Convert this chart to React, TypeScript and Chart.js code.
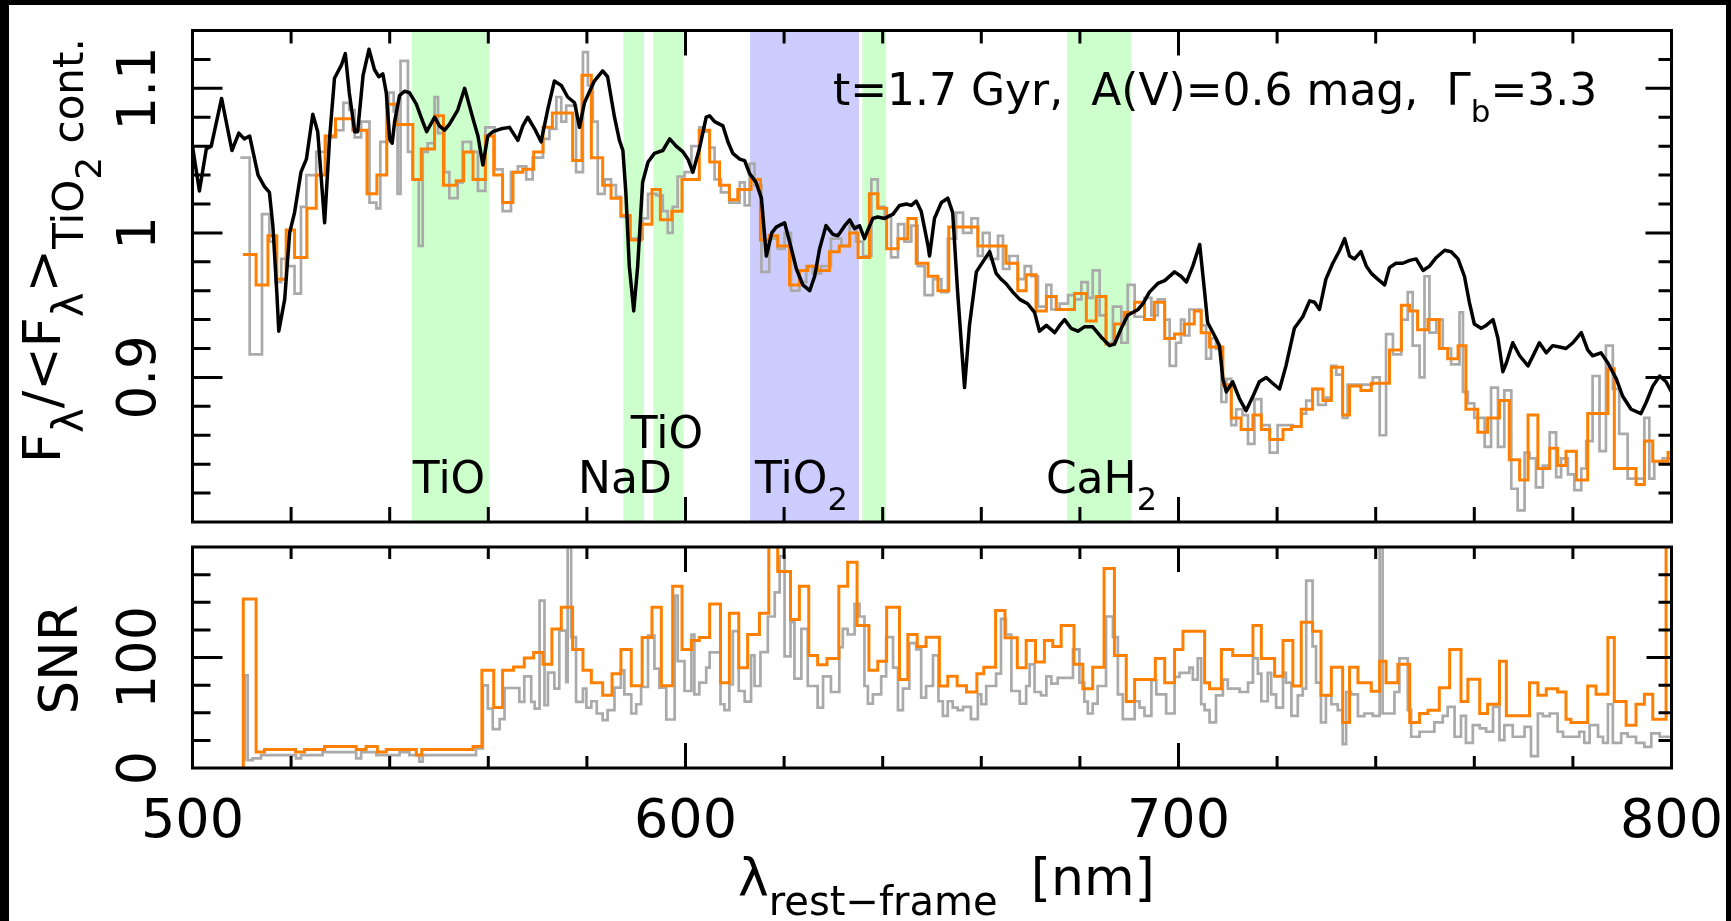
import React, { useEffect, useRef } from 'react';
import { Chart, registerables } from 'chart.js';

Chart.register(...registerables);

// ---------------- data ----------------
// model spectrum (black line)
const modelWave = [
  500.0, 501.4, 502.8, 503.8, 505.9, 508.0, 509.4, 510.5, 511.6, 513.3,
  514.6, 515.6, 516.3, 517.1, 517.5, 518.7, 519.7, 520.7, 522.0, 523.1,
  524.4, 525.4, 526.8, 527.8, 528.8, 530.2, 531.0, 531.8, 532.9, 533.5,
  534.6, 535.8, 536.9, 537.8, 538.6, 539.3, 540.0, 540.5, 541.0, 542.0,
  543.0, 544.0, 545.4, 546.7, 547.5, 549.1, 550.1, 551.1, 552.1, 553.8,
  555.2, 556.9, 557.9, 558.9, 559.9, 560.9, 562.6, 564.3, 566.0, 567.0,
  568.0, 569.4, 570.7, 572.1, 573.4, 574.8, 576.1, 577.5, 578.5, 579.5,
  581.5, 583.2, 584.2, 585.6, 586.6, 587.3, 587.9, 588.6, 589.5, 590.3,
  591.3, 592.4, 593.7, 595.4, 596.8, 598.1, 599.5, 600.5, 601.5, 602.8,
  604.2, 604.9, 605.9, 607.6, 608.6, 609.6, 611.0, 612.0, 613.0, 614.3,
  615.4, 616.4, 617.5, 618.4, 620.1, 621.1, 622.5, 623.8, 625.2, 626.2,
  627.2, 628.5, 629.9, 630.9, 632.3, 633.3, 634.3, 635.3, 636.3, 637.0,
  638.0, 639.0, 640.4, 642.1, 643.4, 644.8, 645.8, 646.8, 647.8, 649.2,
  649.5, 650.5, 651.9, 653.2, 654.2, 655.2, 656.6, 657.6, 659.0, 660.7,
  661.7, 663.0, 664.0, 665.0, 666.4, 667.8, 669.4, 670.8, 671.8, 673.2,
  674.9, 675.9, 676.9, 678.2, 679.6, 680.9, 682.6, 684.3, 686.0, 687.0,
  688.4, 689.7, 691.8, 692.8, 694.1, 695.8, 697.2, 699.2, 700.5, 701.6,
  702.9, 704.3, 705.3, 705.9, 707.3, 708.3, 709.0, 709.7, 711.0, 712.4,
  713.7, 715.1, 716.4, 717.8, 719.1, 720.5, 721.8, 723.5, 725.2, 726.6,
  727.6, 728.6, 729.9, 731.3, 732.7, 733.7, 734.7, 735.7, 737.0, 738.1,
  739.1, 740.4, 741.8, 742.8, 744.1, 745.5, 746.9, 748.2, 749.6, 750.9,
  752.3, 754.0, 755.3, 756.7, 758.0, 759.0, 760.0, 761.4, 762.4, 763.8,
  764.8, 765.8, 766.5, 767.8, 769.2, 770.9, 772.2, 773.2, 774.6, 775.9,
  777.3, 778.6, 780.0, 781.7, 783.0, 784.0, 785.7, 787.1, 788.8, 790.1,
  791.8, 793.8, 794.9, 796.2, 797.6, 798.9, 800.0,
];
const modelFlux = [
  1.060, 1.029, 1.058, 1.060, 1.093, 1.057, 1.069, 1.065, 1.067, 1.040,
  1.032, 1.028, 1.005, 0.959, 0.932, 0.954, 1.000, 1.014, 1.042, 1.051,
  1.082, 1.070, 1.007, 1.065, 1.107, 1.116, 1.124, 1.097, 1.070, 1.070,
  1.109, 1.127, 1.113, 1.108, 1.110, 1.097, 1.065, 1.062, 1.077, 1.095,
  1.098, 1.097, 1.089, 1.077, 1.070, 1.080, 1.074, 1.071, 1.075, 1.085,
  1.100, 1.079, 1.067, 1.047, 1.067, 1.070, 1.072, 1.073, 1.064, 1.074,
  1.080, 1.072, 1.063, 1.086, 1.105, 1.102, 1.094, 1.090, 1.073, 1.090,
  1.105, 1.112, 1.108, 1.080, 1.064, 1.057, 1.028, 0.977, 0.946, 0.977,
  1.035, 1.049, 1.055, 1.057, 1.065, 1.060, 1.056, 1.051, 1.042, 1.058,
  1.080, 1.081, 1.077, 1.074, 1.063, 1.055, 1.051, 1.050, 1.041, 1.035,
  1.024, 0.984, 1.000, 1.004, 1.007, 0.994, 0.975, 0.964, 0.960, 0.970,
  0.989, 1.005, 0.999, 0.998, 1.005, 1.009, 1.003, 1.005, 0.996, 1.002,
  1.010, 1.011, 1.010, 1.013, 1.019, 1.020, 1.019, 1.022, 1.015, 0.991,
  0.984, 1.010, 1.021, 1.024, 1.014, 0.959, 0.893, 0.936, 0.973, 0.982,
  0.987, 0.972, 0.968, 0.965, 0.959, 0.954, 0.951, 0.945, 0.932, 0.936,
  0.931, 0.936, 0.940, 0.934, 0.932, 0.935, 0.935, 0.928, 0.922, 0.923,
  0.934, 0.943, 0.947, 0.951, 0.959, 0.965, 0.967, 0.973, 0.970, 0.966,
  0.977, 0.992, 0.959, 0.938, 0.929, 0.922, 0.899, 0.890, 0.897, 0.885,
  0.877, 0.887, 0.897, 0.900, 0.896, 0.892, 0.908, 0.934, 0.942, 0.953,
  0.952, 0.947, 0.968, 0.979, 0.988, 0.996, 0.984, 0.982, 0.987, 0.977,
  0.972, 0.968, 0.964, 0.976, 0.979, 0.979, 0.981, 0.982, 0.974, 0.977,
  0.983, 0.988, 0.987, 0.982, 0.970, 0.952, 0.937, 0.934, 0.936, 0.940,
  0.927, 0.904, 0.910, 0.924, 0.915, 0.908, 0.917, 0.924, 0.917, 0.922,
  0.921, 0.920, 0.924, 0.931, 0.919, 0.915, 0.917, 0.910, 0.899, 0.887,
  0.878, 0.875, 0.883, 0.894, 0.901, 0.897, 0.890,
];

// observed spectrum, full resolution (grey steps, left bin edges)
const obsWave = [
  509.7, 511.6, 514.1, 515.6, 516.8, 518.0, 519.0, 520.7, 522.0, 523.1,
  525.1, 527.1, 529.1, 530.6, 531.8, 532.9, 534.2, 535.9, 537.3, 538.1,
  539.8, 540.8, 541.6, 542.2, 543.7, 544.6, 545.9, 546.7, 547.7, 549.1,
  549.8, 551.1, 552.1, 553.8, 554.8, 556.5, 557.9, 559.4, 561.3, 562.9,
  564.6, 566.0, 567.7, 569.0, 571.1, 572.4, 573.8, 574.8, 575.8, 577.8,
  579.2, 580.2, 581.2, 582.2, 583.6, 584.9, 585.9, 586.9, 588.6, 591.3,
  592.4, 594.1, 595.4, 596.4, 597.4, 598.4, 599.8, 601.2, 602.8, 603.9,
  604.9, 605.9, 607.2, 608.9, 611.0, 612.0, 613.0, 614.0, 615.4, 617.0,
  618.7, 620.1, 621.4, 623.1, 624.5, 625.8, 627.5, 629.5, 631.6, 633.3,
  634.6, 636.0, 637.7, 639.0, 640.4, 641.7, 643.1, 644.4, 645.8, 647.1,
  648.5, 650.2, 651.9, 653.2, 654.9, 656.3, 658.0, 659.3, 660.3, 661.7,
  663.4, 664.4, 665.7, 667.4, 668.8, 670.1, 671.5, 673.2, 674.2, 675.9,
  677.6, 678.9, 680.3, 681.6, 682.6, 684.0, 685.3, 686.7, 688.4, 689.7,
  691.1, 693.1, 694.5, 695.8, 697.2, 698.2, 699.5, 700.5, 701.2, 702.2,
  704.6, 705.6, 706.6, 707.6, 708.7, 709.7, 710.7, 711.7, 713.0, 714.1,
  715.4, 716.8, 718.5, 720.1, 723.2, 724.9, 725.9, 727.2, 728.3, 729.9,
  731.0, 732.0, 733.3, 734.3, 739.4, 740.8, 742.1, 743.5, 745.2, 746.5,
  747.5, 748.9, 749.9, 750.9, 752.3, 753.6, 755.3, 757.0, 757.7, 758.7,
  760.0, 762.1, 763.4, 764.8, 766.1, 767.5, 768.8, 770.2, 771.2, 772.5,
  773.9, 775.3, 776.6, 777.6, 779.0, 780.3, 781.7, 782.7, 784.0, 785.4,
  786.7, 788.1, 789.4, 791.1, 794.5, 795.5, 796.5, 798.2, 800.0,
];
const obsFlux = [
  1.052, 0.916, 1.013, 0.994, 0.966, 0.982, 0.977, 0.958, 1.018, 1.040,
  1.056, 1.066, 1.071, 1.090, 1.085, 1.066, 1.077, 1.021, 1.017, 1.063,
  1.097, 1.084, 1.027, 1.119, 1.056, 1.037, 0.991, 1.056, 1.062, 1.094,
  1.069, 1.042, 1.024, 1.035, 1.063, 1.056, 1.029, 1.073, 1.044, 1.015,
  1.042, 1.046, 1.037, 1.052, 1.065, 1.072, 1.094, 1.077, 1.088, 1.042,
  1.125, 1.102, 1.077, 1.027, 1.037, 1.033, 1.025, 1.011, 0.996, 1.010,
  1.027, 1.026, 1.015, 1.000, 1.018, 1.039, 1.042, 1.060, 1.073, 1.070,
  1.059, 1.037, 1.028, 1.021, 1.035, 1.019, 1.048, 1.033, 0.973, 0.996,
  0.989, 1.000, 0.960, 0.966, 0.977, 0.972, 0.977, 0.996, 0.991, 1.005,
  0.994, 0.984, 1.037, 1.018, 1.012, 0.983, 1.006, 0.994, 1.005, 0.977,
  0.957, 0.968, 0.959, 0.996, 1.014, 1.000, 1.010, 0.984, 1.000, 0.982,
  0.998, 0.975, 0.984, 0.968, 0.977, 0.970, 0.949, 0.964, 0.947, 0.951,
  0.957, 0.954, 0.966, 0.955, 0.974, 0.943, 0.924, 0.949, 0.924, 0.964,
  0.942, 0.955, 0.943, 0.954, 0.940, 0.908, 0.924, 0.940, 0.929, 0.947,
  0.936, 0.913, 0.927, 0.920, 0.883, 0.899, 0.867, 0.878, 0.874, 0.854,
  0.885, 0.867, 0.848, 0.867, 0.866, 0.875, 0.884, 0.892, 0.881, 0.886,
  0.908, 0.902, 0.872, 0.895, 0.900, 0.860, 0.930, 0.916, 0.940, 0.959,
  0.922, 0.900, 0.970, 0.931, 0.940, 0.920, 0.909, 0.945, 0.890, 0.882,
  0.872, 0.852, 0.893, 0.852, 0.891, 0.823, 0.808, 0.848, 0.844, 0.824,
  0.839, 0.862, 0.831, 0.844, 0.833, 0.822, 0.837, 0.856, 0.901, 0.849,
  0.922, 0.892, 0.861, 0.830, 0.872, 0.830, 0.842, 0.844, 0.844,
];

// observed spectrum, binned (orange steps, left bin edges)
const binWave = [
  510.2, 512.9, 515.3, 517.1, 519.0, 520.7, 523.2, 525.1, 526.9, 529.0,
  532.5, 535.4, 537.4, 539.4, 541.4, 544.7, 546.4, 549.1, 550.9, 553.5,
  555.0, 556.9, 559.4, 561.1, 562.9, 565.0, 567.0, 569.2, 571.1, 573.0,
  577.1, 579.0, 580.9, 583.2, 584.9, 586.9, 588.8, 591.0, 593.2, 594.9,
  597.2, 599.3, 602.8, 604.9, 606.9, 608.9, 610.6, 613.3, 615.2, 617.0,
  618.7, 621.1, 623.1, 624.8, 626.8, 629.2, 631.2, 633.3, 635.0, 637.3,
  639.0, 640.8, 643.1, 645.1, 646.8, 649.2, 651.2, 653.4, 659.3, 665.0,
  667.4, 669.1, 671.1, 673.2, 675.2, 678.9, 681.3, 683.3, 685.3, 687.0,
  689.0, 691.1, 693.1, 695.1, 697.2, 699.2, 701.2, 703.2, 704.6, 706.3,
  709.0, 710.7, 712.7, 715.1, 716.8, 718.5, 721.2, 722.9, 724.9, 727.2,
  729.3, 731.0, 733.3, 734.7, 737.0, 739.1, 742.8, 745.2, 746.9, 748.5,
  750.6, 752.9, 754.6, 756.7, 758.3, 760.7, 762.7, 765.1, 767.1, 769.2,
  770.9, 772.9, 775.3, 776.9, 778.6, 780.7, 783.0, 787.1, 788.4, 792.8,
  794.5, 796.2, 799.3, 800.0,
];
const binFlux = [
  0.985, 0.964, 0.998, 0.968, 1.002, 0.983, 1.017, 1.040, 1.067, 1.079,
  1.071, 1.027, 1.040, 1.089, 1.075, 1.037, 1.058, 1.081, 1.033, 1.036,
  1.056, 1.037, 1.067, 1.040, 1.021, 1.042, 1.044, 1.056, 1.073, 1.083,
  1.050, 1.109, 1.052, 1.033, 1.024, 1.012, 0.995, 1.006, 1.030, 1.009,
  1.015, 1.037, 1.071, 1.049, 1.033, 1.023, 1.030, 1.037, 0.995, 0.998,
  0.991, 0.964, 0.974, 0.977, 0.974, 0.987, 0.991, 1.000, 0.983, 1.027,
  1.017, 0.989, 0.996, 1.010, 0.979, 0.970, 0.960, 1.004, 0.991, 0.979,
  0.960, 0.971, 0.946, 0.956, 0.947, 0.958, 0.939, 0.956, 0.923, 0.937,
  0.945, 0.952, 0.940, 0.952, 0.927, 0.930, 0.937, 0.946, 0.931, 0.921,
  0.895, 0.872, 0.864, 0.874, 0.864, 0.857, 0.864, 0.866, 0.878, 0.892,
  0.884, 0.907, 0.874, 0.894, 0.891, 0.896, 0.919, 0.950, 0.946, 0.933,
  0.940, 0.920, 0.913, 0.922, 0.878, 0.862, 0.872, 0.884, 0.843, 0.829,
  0.874, 0.837, 0.851, 0.839, 0.849, 0.829, 0.875, 0.906, 0.837, 0.826,
  0.856, 0.842, 0.848, 0.848,
];

// SNR, full resolution (grey) and binned (orange)
const snrObsWave = [
  510.5, 510.6, 511.2, 512.2, 513.9, 521.0, 522.0, 526.4, 533.2, 534.2,
  537.3, 542.0, 544.0, 546.0, 546.7, 557.5, 558.9, 559.9, 560.9, 562.3,
  563.3, 566.3, 567.3, 568.7, 569.4, 570.4, 571.4, 572.1, 573.4, 574.4,
  575.8, 576.1, 576.8, 577.8, 579.2, 579.9, 580.9, 582.0, 583.2, 584.2,
  585.6, 586.9, 587.6, 589.0, 590.0, 591.0, 592.4, 593.7, 594.7, 596.1,
  597.8, 598.4, 599.8, 601.2, 601.8, 602.8, 604.2, 604.9, 607.1, 607.9,
  608.9, 609.6, 610.8, 612.0, 613.3, 614.0, 615.2, 616.7, 618.1, 619.1,
  620.1, 621.3, 622.1, 623.5, 624.8, 626.8, 627.9, 629.5, 631.2, 631.9,
  632.9, 634.3, 635.3, 636.3, 637.0, 638.0, 639.7, 640.7, 642.1, 643.1,
  644.1, 645.4, 646.8, 647.8, 648.8, 650.2, 651.3, 652.2, 653.2, 654.2,
  655.2, 656.3, 657.9, 659.3, 660.0, 661.0, 663.0, 664.0, 665.0, 666.1,
  667.8, 669.1, 669.8, 670.8, 672.1, 673.2, 674.2, 675.5, 678.6, 679.9,
  680.9, 681.6, 682.6, 683.6, 685.3, 686.7, 687.7, 688.7, 691.1, 692.1,
  693.1, 694.5, 695.5, 697.5, 699.2, 700.2, 702.2, 702.9, 703.9, 704.6,
  705.3, 706.3, 707.6, 709.0, 710.0, 712.4, 714.1, 715.1, 716.1, 716.8,
  718.1, 718.8, 719.8, 721.2, 721.8, 722.9, 724.2, 725.2, 725.9, 727.2,
  727.9, 728.9, 729.9, 731.0, 732.3, 733.3, 734.0, 735.0, 736.4, 737.7,
  739.4, 740.8, 741.4, 743.8, 744.8, 746.5, 747.2, 748.9, 751.9, 753.6,
  754.6, 756.0, 757.3, 758.3, 759.7, 761.1, 762.4, 763.8, 765.1, 766.1,
  767.8, 770.2, 771.5, 772.9, 773.9, 775.3, 776.9, 778.0, 781.3, 782.3,
  783.4, 785.1, 786.1, 787.1, 788.1, 789.8, 791.1, 792.8, 794.5, 795.9,
  797.6, 800.0,
];
const snrObs = [
  7.2, 83.9, 7.2, 8.7, 11.7, 8.7, 11.7, 14.4, 8.7, 14.4,
  11.7, 14.4, 11.7, 5.7, 11.7, 17.7, 74.8, 53.8, 35.2, 44.2,
  72.4, 59.8, 83.0, 59.8, 53.8, 151.5, 56.8, 86.3, 71.8, 124.4,
  77.8, 205, 118.4, 59.8, 71.8, 54.7, 60.4, 49.3, 43.3, 52.3,
  72.7, 88.4, 66.7, 49.3, 57.7, 73.3, 119.9, 89.9, 72.7, 43.9,
  156.0, 96.8, 69.7, 120.8, 66.7, 77.2, 90.8, 104.6, 57.7, 52.3,
  75.7, 123.8, 69.7, 60.1, 101.9, 74.2, 104.9, 137.1, 159.0, 191.5,
  101.0, 132.0, 80.9, 125.9, 74.2, 54.7, 83.0, 68.8, 109.4, 125.9,
  120.8, 148.5, 137.1, 74.2, 58.3, 66.7, 83.0, 118.4, 90.8, 52.3,
  71.8, 113.0, 107.3, 63.7, 74.2, 101.9, 60.4, 47.2, 60.4, 54.7,
  52.3, 55.3, 44.2, 66.7, 57.7, 74.2, 85.4, 135.0, 120.8, 69.7,
  58.3, 74.2, 93.8, 68.8, 65.8, 83.0, 76.3, 81.5, 107.3, 77.2,
  60.1, 49.3, 58.3, 74.2, 137.1, 118.4, 66.7, 44.2, 60.4, 54.7,
  47.2, 79.4, 66.7, 49.3, 82.4, 86.0, 90.8, 80.0, 99.2, 57.7,
  52.3, 41.2, 65.8, 80.0, 71.8, 68.8, 77.2, 99.2, 85.4, 60.4,
  86.0, 66.7, 54.7, 86.0, 77.2, 47.2, 65.8, 71.8, 169.5, 110.0,
  77.2, 41.2, 65.8, 57.7, 52.3, 21.6, 68.8, 66.7, 46.9, 49.3,
  47.2, 205, 49.3, 68.8, 99.2, 52.3, 28.3, 32.8, 41.2, 47.2,
  55.3, 28.3, 47.2, 22.8, 38.8, 35.8, 32.8, 55.3, 25.2, 38.8,
  28.3, 37.3, 10.8, 49.3, 46.9, 49.3, 32.8, 28.3, 32.8, 22.8,
  38.8, 28.3, 22.8, 57.7, 22.8, 31.3, 28.3, 22.8, 19.2, 31.3,
  28.3, 28.3,
];
const snrBinWave = [
  510.3, 510.3, 512.9, 514.6, 520.9, 522.7, 526.8, 533.2, 535.2, 537.5,
  539.3, 545.4, 546.5, 556.9, 558.7, 561.1, 562.9, 565.1, 567.3, 569.2,
  571.1, 572.9, 574.8, 577.1, 579.2, 580.9, 583.2, 585.1, 586.9, 589.0,
  591.2, 593.2, 595.1, 597.4, 599.3, 601.2, 602.8, 604.9, 607.1, 608.9,
  610.8, 612.6, 615.0, 616.9, 618.7, 621.3, 623.1, 625.0, 626.8, 628.7,
  631.1, 632.9, 634.8, 637.2, 639.0, 640.8, 643.4, 645.1, 647.0, 648.8,
  651.5, 653.2, 655.1, 657.0, 659.1, 660.5, 662.9, 664.8, 667.3, 669.1,
  671.0, 672.8, 674.5, 676.2, 678.8, 680.6, 682.6, 684.9, 687.0, 689.4,
  691.1, 695.3, 697.2, 699.2, 700.9, 705.3, 706.3, 708.7, 711.0, 715.1,
  716.8, 719.5, 721.2, 723.2, 724.9, 727.2, 728.9, 731.0, 733.3, 734.7,
  736.4, 739.1, 740.8, 742.1, 744.5, 746.9, 748.9, 750.6, 752.9, 755.0,
  757.3, 758.7, 761.1, 762.7, 765.1, 766.5, 771.2, 772.9, 774.6, 776.9,
  778.6, 779.6, 783.0, 784.7, 787.1, 788.4, 790.8, 792.8, 794.5, 796.2,
  798.9, 800.0,
];
const snrBin = [
  0, 153, 14.4, 16.8, 14.4, 16.8, 19.5, 16.8, 19.5, 14.4,
  16.8, 11.7, 16.8, 19.5, 88.4, 54.7, 88.4, 91.4, 99.5, 104.6,
  93.8, 125.9, 145.5, 107.3, 88.4, 77.2, 65.8, 85.4, 107.3, 74.5,
  118.1, 145.5, 74.5, 164.4, 107.3, 115.4, 118.1, 148.5, 77.2, 140.1,
  90.8, 120.8, 140.1, 210, 177.9, 134.4, 164.4, 101.9, 93.5, 99.2,
  164.4, 186.1, 128.9, 88.4, 96.5, 145.5, 80.0, 120.8, 110.0, 118.4,
  74.2, 83.0, 74.5, 68.8, 85.4, 91.1, 142.5, 117.8, 90.8, 115.4,
  95.9, 115.4, 110.0, 128.9, 93.8, 71.8, 91.1, 180.6, 101.9, 60.1,
  80.0, 99.2, 77.2, 107.3, 123.8, 77.2, 71.8, 107.3, 101.9, 128.9,
  99.2, 83.0, 115.4, 74.2, 132.0, 123.8, 65.8, 91.1, 41.2, 91.1,
  77.2, 69.4, 96.5, 77.2, 93.8, 41.2, 49.3, 52.3, 72.7, 107.3,
  60.1, 80.3, 49.3, 57.7, 96.5, 47.2, 77.2, 65.8, 71.8, 68.8,
  44.2, 41.2, 74.2, 66.7, 118.1, 60.1, 38.8, 57.7, 66.7, 44.2,
  210, 210,
];

// index bands
const bandStart = [544.5, 587.4, 593.5, 613.1, 635.9, 677.4];
const bandEnd = [560.2, 591.6, 599.6, 635.2, 640.7, 690.4];
const bandKind = ['side', 'side', 'side', 'index', 'side', 'side'];

// axis ranges and ticks
const xMin = 500, xMax = 800;
const xTickLabels = [500, 600, 700, 800];
const fluxMin = 0.8, fluxMax = 1.14;
const fluxTickLabels = [0.9, 1.0, 1.1];
const snrMin = 0, snrMax = 200;
const snrTickLabels = [0, 100];

// ---------------- drawing helpers ----------------
const W = 1731, H = 921, SPLIT = 535;
const FONT = '"DejaVu Sans", "Liberation Sans", sans-serif';
const ORANGE = '#ff8000';
const GREY = '#aaaaaa';

type Part = { t: string; size: number; dy: number };

function drawParts(ctx: CanvasRenderingContext2D, parts: Part[], x: number, y: number, rot: boolean) {
  ctx.save();
  ctx.translate(x, y);
  if (rot) ctx.rotate(-Math.PI / 2);
  ctx.fillStyle = '#000';
  ctx.textAlign = 'left';
  ctx.textBaseline = 'alphabetic';
  let adv = 0;
  for (const p of parts) {
    ctx.font = `${p.size}px ${FONT}`;
    ctx.fillText(p.t, adv, p.dy);
    adv += ctx.measureText(p.t).width;
  }
  ctx.restore();
}

function drawCentered(ctx: CanvasRenderingContext2D, t: string, size: number, x: number, y: number, rot: boolean) {
  ctx.save();
  ctx.translate(x, y);
  if (rot) ctx.rotate(-Math.PI / 2);
  ctx.fillStyle = '#000';
  ctx.font = `${size}px ${FONT}`;
  ctx.textAlign = 'center';
  ctx.textBaseline = 'alphabetic';
  ctx.fillText(t, 0, 0);
  ctx.restore();
}

type TickSpec = {
  xMinorTop: number; xMajorTop: number; xMinorBot: number; xMajorBot: number;
  yMinorL: number; yMajorL: number; yMinorR: number; yMajorR: number;
};

function drawBox(chart: any, yTicks: number[], yMajor: (v: number) => boolean, spec: TickSpec) {
  const { ctx, chartArea: a } = chart;
  const xs = chart.scales.x, ys = chart.scales.y;
  ctx.save();
  ctx.strokeStyle = '#000';
  ctx.lineWidth = 3;
  ctx.lineCap = 'butt';
  ctx.beginPath();
  for (let v = xMin + 20; v < xMax; v += 20) {
    const major = v % 100 === 0;
    const px = xs.getPixelForValue(v);
    ctx.moveTo(px, a.top);
    ctx.lineTo(px, a.top + (major ? spec.xMajorTop : spec.xMinorTop));
    ctx.moveTo(px, a.bottom);
    ctx.lineTo(px, a.bottom - (major ? spec.xMajorBot : spec.xMinorBot));
  }
  for (const v of yTicks) {
    const major = yMajor(v);
    const py = ys.getPixelForValue(v);
    ctx.moveTo(a.left, py);
    ctx.lineTo(a.left + (major ? spec.yMajorL : spec.yMinorL), py);
    ctx.moveTo(a.right, py);
    ctx.lineTo(a.right - (major ? spec.yMajorR : spec.yMinorR), py);
  }
  ctx.stroke();
  ctx.strokeRect(a.left, a.top, a.right - a.left, a.bottom - a.top);
  ctx.restore();
}

const topDecor = {
  id: 'topDecor',
  beforeDatasetsDraw(chart: any) {
    const { ctx, chartArea: a } = chart;
    const xs = chart.scales.x;
    ctx.save();
    bandStart.forEach((s, i) => {
      const x0 = xs.getPixelForValue(s);
      const x1 = xs.getPixelForValue(bandEnd[i]);
      ctx.fillStyle = bandKind[i] === 'index' ? '#ccccff' : '#ccffcc';
      ctx.fillRect(x0, a.top, x1 - x0, a.bottom - a.top);
    });
    ctx.restore();
  },
  afterDatasetsDraw(chart: any) {
    const { ctx, chartArea: a } = chart;
    const xs = chart.scales.x, ys = chart.scales.y;
    const yt: number[] = [];
    for (let k = 41; k <= 56; k++) yt.push(k * 0.02);
    drawBox(chart, yt, (v) => Math.round(v * 50) % 5 === 0, {
      xMinorTop: 13, xMajorTop: 25, xMinorBot: 15, xMajorBot: 25,
      yMinorL: 18, yMajorL: 30, yMinorR: 13, yMajorR: 26,
    });
    // y tick labels (rotated)
    fluxTickLabels.forEach((v) => {
      const label = v === 1 ? '1' : v.toFixed(1);
      drawCentered(ctx, label, 53, 155, ys.getPixelForValue(v), true);
    });
    // y title
    drawParts(ctx, [
      { t: 'F', size: 52, dy: 0 },
      { t: 'λ', size: 42, dy: 23 },
      { t: '/<F', size: 52, dy: 0 },
      { t: 'λ', size: 42, dy: 23 },
      { t: '>', size: 52, dy: 0 },
      { t: 'TiO', size: 42, dy: 23 },
      { t: '2', size: 36, dy: 41 },
      { t: ' cont.', size: 42, dy: 23 },
    ], 60, 463, true);
    // band labels
    const base = a.bottom - 29;
    drawParts(ctx, [{ t: 'TiO', size: 44, dy: 0 }], xs.getPixelForValue(544.7), base, false);
    drawParts(ctx, [{ t: 'NaD', size: 44, dy: 0 }], xs.getPixelForValue(578.2), base, false);
    drawParts(ctx, [{ t: 'TiO', size: 44, dy: 0 }], xs.getPixelForValue(588.9), a.bottom - 74, false);
    drawParts(ctx, [{ t: 'TiO', size: 44, dy: 0 }, { t: '2', size: 32, dy: 17 }], xs.getPixelForValue(614.1), base, false);
    drawParts(ctx, [{ t: 'CaH', size: 44, dy: 0 }, { t: '2', size: 32, dy: 17 }], xs.getPixelForValue(673.1), base, false);
    // annotation
    drawParts(ctx, [
      { t: 't=1.7 Gyr,  A(V)=0.6 mag,  Γ', size: 44, dy: 0 },
      { t: 'b', size: 31, dy: 17 },
      { t: '=3.3', size: 44, dy: 0 },
    ], xs.getPixelForValue(629.9), a.top + 74.5, false);
  },
};

const botDecor = {
  id: 'botDecor',
  afterDatasetsDraw(chart: any) {
    const { ctx, chartArea: a } = chart;
    const xs = chart.scales.x, ys = chart.scales.y;
    drawBox(chart, [25, 50, 75, 100, 125, 150, 175], (v) => v === 100, {
      xMinorTop: 12, xMajorTop: 25, xMinorBot: 12, xMajorBot: 25,
      yMinorL: 18, yMajorL: 30, yMinorR: 13, yMajorR: 25,
    });
    xTickLabels.forEach((v) => {
      drawCentered(ctx, String(v), 54, xs.getPixelForValue(v), a.bottom + 69, false);
    });
    snrTickLabels.forEach((v) => {
      drawCentered(ctx, String(v), 54, 155, ys.getPixelForValue(v), true);
    });
    drawCentered(ctx, 'SNR', 53, 77, ys.getPixelForValue(100) + 2, true);
    drawParts(ctx, [
      { t: 'λ', size: 52, dy: 0 },
      { t: 'rest−frame', size: 40, dy: 20 },
      { t: '  [nm]', size: 52, dy: 0 },
    ], 738, a.bottom + 127, false);
  },
};

function pts(xs: number[], ys: number[]) {
  return xs.map((x, i) => ({ x, y: ys[i] }));
}

function baseOptions(pad: any, yMin: number, yMax: number) {
  return {
    animation: false,
    responsive: false,
    maintainAspectRatio: false,
    devicePixelRatio: 1,
    events: [],
    layout: { padding: pad },
    scales: {
      x: { type: 'linear', min: xMin, max: xMax, display: false },
      y: { type: 'linear', min: yMin, max: yMax, display: false },
    },
    plugins: { legend: { display: false }, tooltip: { enabled: false }, title: { display: false } },
    elements: { point: { radius: 0 } },
  };
}

export default function App() {
  const topRef = useRef<HTMLCanvasElement | null>(null);
  const botRef = useRef<HTMLCanvasElement | null>(null);

  useEffect(() => {
    const top = new Chart(topRef.current as HTMLCanvasElement, {
      type: 'line',
      data: {
        datasets: [
          { data: pts(obsWave, obsFlux), borderColor: GREY, borderWidth: 2.7, stepped: 'before', pointRadius: 0, order: 3 },
          { data: pts(binWave, binFlux), borderColor: ORANGE, borderWidth: 3, stepped: 'before', pointRadius: 0, order: 2 },
          {
            data: pts(modelWave, modelFlux), borderColor: '#000', borderWidth: 3.5, tension: 0,
            borderJoinStyle: 'round', borderCapStyle: 'round', pointRadius: 0, order: 1,
          },
        ],
      },
      options: baseOptions({ left: 192.5, right: W - 1671.5, top: 30.5, bottom: SPLIT - 522 }, fluxMin, fluxMax) as any,
      plugins: [topDecor],
    } as any);
    const bot = new Chart(botRef.current as HTMLCanvasElement, {
      type: 'line',
      data: {
        datasets: [
          { data: pts(snrObsWave, snrObs), borderColor: GREY, borderWidth: 2.7, stepped: 'before', pointRadius: 0, order: 2 },
          { data: pts(snrBinWave, snrBin), borderColor: ORANGE, borderWidth: 3, stepped: 'before', pointRadius: 0, order: 1 },
        ],
      },
      options: baseOptions({ left: 192.5, right: W - 1671.5, top: 547 - SPLIT, bottom: H - 768 }, snrMin, snrMax) as any,
      plugins: [botDecor],
    } as any);
    return () => {
      top.destroy();
      bot.destroy();
    };
  }, []);

  return (
    <div style={{ position: 'fixed', left: 0, top: 0, width: W, height: H, background: '#000', overflow: 'hidden' }}>
      <div style={{ position: 'absolute', left: 9, top: 5, width: W - 14, height: H - 5, background: '#fff' }} />
      <canvas ref={topRef} width={W} height={SPLIT}
        style={{ position: 'absolute', left: 0, top: 0, width: W, height: SPLIT }} />
      <canvas ref={botRef} width={W} height={H - SPLIT}
        style={{ position: 'absolute', left: 0, top: SPLIT, width: W, height: H - SPLIT }} />
    </div>
  );
}
